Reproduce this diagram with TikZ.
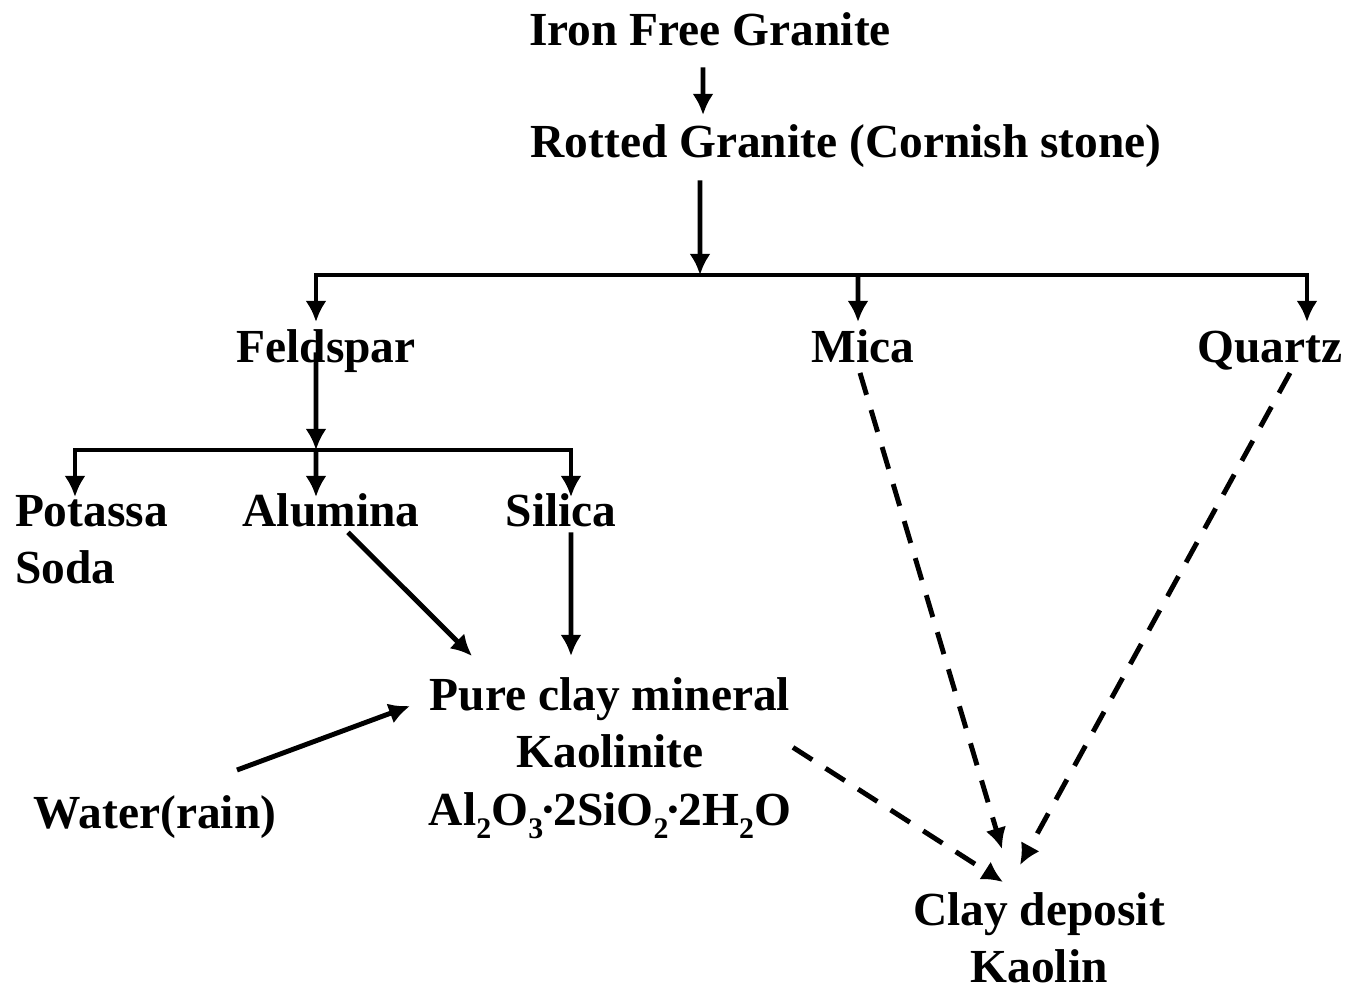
\documentclass[tikz,border=0pt]{standalone}
\usepackage{fontspec}
\setmainfont{Liberation Serif}
\usetikzlibrary{arrows.meta}
\newcommand{\lowidx}[1]{\raisebox{-0.28em}{\fontsize{17}{17}\selectfont #1}}
\newcommand{\cdotx}{\kern-0.06em·\kern-0.06em}
\begin{document}
\begin{tikzpicture}[x=0.02cm,y=-0.02cm,line width=2.8pt,
  >={Latex[length=12pt,width=12pt]},
  lbl/.style={anchor=north,inner sep=0pt,outer sep=0pt,align=center,
    font=\fontsize{27}{32.7}\selectfont\bfseries,text height=19pt,text depth=6pt},
  twolines/.style={text height=51.7pt},
  threelines/.style={text height=84.4pt},
  dashline/.style={dash pattern=on 13pt off 9pt}]
\useasboundingbox (0,0) rectangle (1348,984);
% labels
\node[lbl] (iron) at (710,12) {Iron Free Granite};
\node[lbl] (rotted) at (846,124) {Rotted Granite (Cornish stone)};
\node[lbl] (feldspar) at (326,329) {Feldspar};
\node[lbl] (mica) at (863,329) {Mica};
\node[lbl] (quartz) at (1270,329) {Quartz};
\node[lbl,twolines,anchor=north west,align=left] (potassa) at (15,493) {Potassa\\Soda};
\node[lbl] (alumina) at (331,493) {Alumina};
\node[lbl] (silica) at (561,493) {Silica};
\node[lbl,threelines] (pure) at (610,677) {Pure clay mineral\\Kaolinite\\
  Al\lowidx{2}O\lowidx{3}\cdotx2SiO\lowidx{2}\cdotx2H\lowidx{2}O};
\node[lbl] (water) at (155,795) {Water(rain)};
\node[lbl,twolines] (deposit) at (1039,892) {Clay deposit\\Kaolin};
\coordinate (split1) at (700,275);
\coordinate (split2) at (316,450);
% tree
\draw[->] ([xshift=-0.14cm,yshift=-0.23cm]iron.south) -- ([xshift=-2.86cm,yshift=0.18cm]rotted.north);
\draw[->] ([xshift=-2.92cm,yshift=-0.25cm]rotted.south) -- (split1);
\draw[->,shorten >=0.14cm] (split1) -| ([xshift=-0.2cm]feldspar.north);
\draw[->,shorten >=0.14cm] (split1) -| ([xshift=0.74cm]quartz.north);
\draw[->,shorten >=0.14cm] (split1 -| 858,0) -- ([xshift=-0.1cm]mica.north);
\draw[->] ([xshift=-0.2cm,yshift=0.2cm]feldspar.base) -- (split2);
\draw[->,shorten >=-0.08cm] (split2) -| ([xshift=1.2cm]potassa.north west);
\draw[->,shorten >=-0.08cm] (split2) -| ([xshift=0.2cm]silica.north);
\draw[->,shorten >=-0.08cm] (split2) -- ([xshift=-0.3cm]alumina.north);
% towards kaolinite
\draw[->] ([xshift=0.34cm,yshift=0.09cm]alumina.south) -- ([xshift=-2.76cm,yshift=0.42cm]pure.north);
\draw[->] ([xshift=0.2cm,yshift=0.09cm]silica.south) -- ([xshift=-0.78cm,yshift=0.42cm]pure.north);
\draw[->] ([xshift=1.64cm,yshift=0.5cm]water.north) -- ([xshift=-4cm,yshift=-0.58cm]pure.north);
% towards the deposit
\draw[->,dashline] ([xshift=0.04cm,yshift=0.18cm]pure.east) -- ([xshift=-0.72cm,yshift=0.2cm]deposit.north);
\draw[->,dashline] ([xshift=-0.06cm]mica.south) -- ([xshift=-0.74cm,yshift=0.86cm]deposit.north);
\draw[->,dashline] ([xshift=0.4cm]quartz.south) -- ([xshift=-0.38cm,yshift=0.54cm]deposit.north);
\end{tikzpicture}
\end{document}
